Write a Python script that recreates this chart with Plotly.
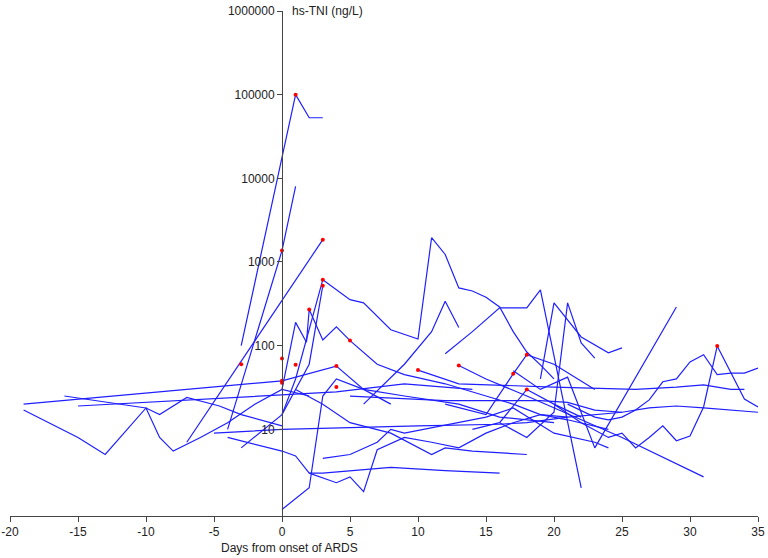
import plotly.graph_objects as go

# ---- data: (days from ARDS onset, hs-TNI ng/L) per patient ----
p01_day = [-3, 1, 2, 3]
p01_val = [100, 100000, 53000, 53000]
p02_day = [-4, 0, 1]
p02_val = [10, 1370, 8000]
p03_day = [-7, 3]
p03_val = [7, 1850]
p04_day = [0, 1, 3, 5, 6, 8, 10, 11, 12, 13, 14, 15, 16, 17, 18, 19, 20]
p04_val = [15, 40, 615, 355, 325, 155, 120, 1950, 1230, 490, 450, 380, 290, 147, 84, 59, 40]
p05_day = [-3, 0, 2, 3]
p05_val = [6, 15, 60, 520]
p06_day = [0, 1, 1.8, 2, 3, 4, 5, 7, 9, 12, 15, 17, 19, 21, 24]
p06_val = [30, 190, 110, 270, 117, 168, 115, 60, 45, 35, 25, 20, 15, 13, 10]
p07_day = [-19, 0, 4, 6, 9, 13, 16, 20]
p07_val = [20, 38, 57, 30, 25, 20, 14, 12]
p08_day = [-19, -15, -13, -10, -9, -8, -6, -4, -2, 0, 2]
p08_val = [17, 8, 5, 18, 8, 5.5, 8, 12, 20, 30, 25]
p09_day = [-16, -10, -9, -7, -4.6, -3, 0]
p09_val = [25, 18, 15, 24, 19, 15, 11]
p10_day = [-15, 4, 9, 14]
p10_val = [19, 28, 35, 30]
p11_day = [-5, 0, 10, 16, 18, 21, 25]
p11_val = [9, 10, 11, 11.5, 12, 14, 16]
p12_day = [-4, 0, 1, 2, 3, 5, 8, 12, 16]
p12_val = [8, 5.5, 4.8, 3, 3, 3.2, 3.5, 3.2, 3]
p13_day = [0, 2, 3, 4, 6, 8]
p13_val = [1.1, 2, 25, 40, 30, 20]
p14_day = [20, 22, 24, 25, 26, 27, 28, 29, 30, 31, 32, 33, 34, 35]
p14_val = [20, 12, 8, 9, 6, 8, 11, 7.3, 8.3, 18.5, 99, 47, 23, 18.5]
p15_day = [21, 23, 24, 25, 26, 27, 28, 29, 30, 31, 32, 33, 34, 35]
p15_val = [20, 14, 13, 14, 17, 22.5, 37, 40, 64, 78, 45, 47, 47, 54]
p16_day = [10, 13, 20, 24, 26, 29, 31, 33, 34]
p16_val = [51, 35, 32, 31, 30, 32, 34, 30, 30]
p17_day = [5, 12, 19, 21, 23, 25, 27, 29, 31, 35]
p17_val = [25, 22, 22, 21, 17, 16, 18, 19, 18, 16]
p18_day = [17, 19, 21, 23, 29]
p18_val = [50, 30, 42, 6, 290]
p19_day = [12, 14, 16, 18, 19, 22]
p19_val = [80, 147, 283, 283, 465, 2]
p20_day = [19, 20, 22, 24, 25]
p20_val = [40, 325, 127, 82, 94]
p21_day = [16, 18, 20, 21, 22, 23]
p21_val = [12, 8, 16, 325, 108, 71]
p22_day = [6, 9, 11, 12, 13]
p22_val = [20, 60, 147, 340, 165]
p23_day = [2, 4, 5, 6, 7, 9, 11, 13, 15, 17, 19, 21]
p23_val = [3, 2.3, 2.7, 1.8, 5.7, 8, 7, 6, 9, 12, 15, 14]
p24_day = [3, 5, 7, 8, 9, 13, 15, 17, 20, 23, 24]
p24_val = [4.5, 5, 7, 10, 9, 12, 14, 18, 9, 7, 6]
p25_day = [1, 3, 5, 8, 11, 12, 14, 16, 18]
p25_val = [30, 20, 12, 9, 5, 6, 5.5, 5.2, 5]
p26_day = [13, 15, 18, 20, 25, 31]
p26_val = [58, 40, 25, 18, 8, 2.7]
p27_day = [12, 15, 17, 18, 20, 23]
p27_val = [20, 15, 46, 78, 60, 30]
p28_day = [14, 16, 18, 20, 22]
p28_val = [10, 12, 30, 20, 14]

series = [
    (p01_day, p01_val), (p02_day, p02_val), (p03_day, p03_val), (p04_day, p04_val),
    (p05_day, p05_val), (p06_day, p06_val), (p07_day, p07_val), (p08_day, p08_val),
    (p09_day, p09_val), (p10_day, p10_val), (p11_day, p11_val), (p12_day, p12_val),
    (p13_day, p13_val), (p14_day, p14_val), (p15_day, p15_val), (p16_day, p16_val),
    (p17_day, p17_val), (p18_day, p18_val), (p19_day, p19_val), (p20_day, p20_val),
    (p21_day, p21_val), (p22_day, p22_val), (p23_day, p23_val), (p24_day, p24_val),
    (p25_day, p25_val), (p26_day, p26_val), (p27_day, p27_val), (p28_day, p28_val),
]

# highlighted (red) measurements
red_day = [1, 0, 3, 3, 3, 2, -3, 0, 0, 0, 1, 5, 4, 4, 10, 13, 17, 18, 18, 32]
red_val = [100000, 1370, 1850, 615, 520, 270, 60, 70, 38, 36, 59, 115, 57, 32, 51, 58, 46, 78, 30, 99]

x_ticks = [-20, -15, -10, -5, 0, 5, 10, 15, 20, 25, 30, 35]
x_tick_text = ["-20", "-15", "-10", "-5", "0", "5", "10", "15", "20", "25", "30", "35"]
y_ticks = [10, 100, 1000, 10000, 100000, 1000000]
y_tick_text = ["10", "100", "1000", "10000", "100000", "1000000"]

fig = go.Figure()
for d, v in series:
    fig.add_trace(go.Scatter(x=d, y=v, mode="lines",
                             line=dict(color="#1f1fff", width=1.2),
                             showlegend=False, hoverinfo="skip"))
fig.add_trace(go.Scatter(x=red_day, y=red_val, mode="markers",
                         marker=dict(color="#ff0000", size=4),
                         showlegend=False, hoverinfo="skip"))

font = dict(family="Liberation Sans, Arial, sans-serif", size=12, color="#222222")
fig.update_layout(
    width=768, height=558,
    margin=dict(l=10, r=10, t=11, b=42),
    paper_bgcolor="white", plot_bgcolor="white",
    font=font,
    xaxis=dict(range=[-20, 35], tickvals=x_ticks, ticktext=x_tick_text,
               ticks="outside", ticklen=5, ticklabeloverflow="allow",
               tickcolor="#444444", showline=True, linecolor="#444444", linewidth=1,
               showgrid=False, zeroline=False, tickfont=font, automargin=False),
    yaxis=dict(type="log", range=[-0.036, 6], tickvals=y_ticks, ticktext=y_tick_text,
               ticks="outside", ticklen=5, tickcolor="#444444",
               showline=True, linecolor="#444444", linewidth=1,
               showgrid=False, zeroline=False, anchor="free", position=20 / 55,
               tickfont=font, automargin=False),
    annotations=[
        dict(text="hs-TNI (ng/L)", x=0, xref="x", xshift=8, xanchor="left",
             y=1, yref="paper", yanchor="middle", showarrow=False, font=font),
        dict(text="Days from onset of ARDS", x=(289 - 10) / 748, xref="paper",
             xanchor="center", y=-0.063, yref="paper", yanchor="middle",
             showarrow=False, font=font),
    ],
)
fig.write_html("out.html", config={"displayModeBar": False},
               post_script="document.body.style.margin='0';document.body.style.overflow='hidden';")
